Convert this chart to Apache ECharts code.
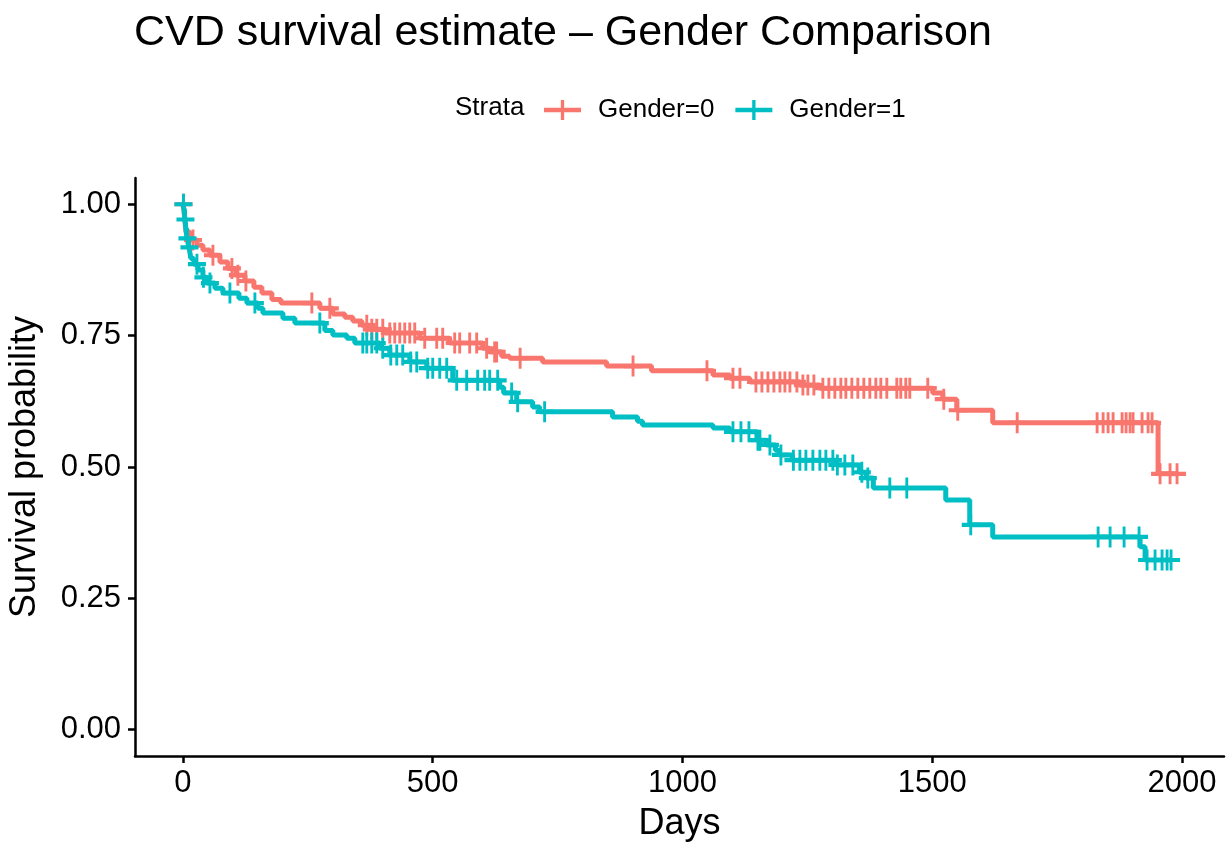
<!DOCTYPE html>
<html>
<head>
<meta charset="utf-8">
<script src="https://cdn.jsdelivr.net/npm/echarts@6/dist/echarts.min.js"></script>
<style>html,body{margin:0;padding:0;background:#fff}#c{width:1226px;height:844px}</style>
</head>
<body>
<div id="c"></div>
<script>
// ---- data ----
const seriesNames = ['Gender=0', 'Gender=1'];
const xTicks = [0, 500, 1000, 1500, 2000];
const yTicks = [0, 0.25, 0.5, 0.75, 1];

const redTimes = [0, 2, 6, 14, 28, 40, 54, 74, 90, 106, 124, 142, 158, 178, 196, 274, 300, 324, 340, 358, 374, 404, 474, 534, 600, 614, 638, 654, 720, 848, 938, 1061, 1095, 1135, 1235, 1275, 1501, 1521, 1549, 1621, 1952, 1990];
const redSurv = [1.0, 0.990, 0.947, 0.932, 0.922, 0.913, 0.903, 0.890, 0.878, 0.865, 0.854, 0.842, 0.831, 0.819, 0.812, 0.802, 0.791, 0.785, 0.778, 0.770, 0.762, 0.755, 0.745, 0.736, 0.726, 0.719, 0.711, 0.707, 0.700, 0.692, 0.683, 0.675, 0.669, 0.662, 0.656, 0.650, 0.641, 0.629, 0.608, 0.584, 0.487, 0.487];
const redCensor = [1, 20, 60, 98, 110, 126, 258, 294, 368, 378, 388, 400, 414, 424, 434, 444, 454, 464, 484, 508, 520, 544, 554, 574, 588, 608, 624, 628, 675, 901, 1049, 1101, 1115, 1147, 1159, 1171, 1183, 1195, 1205, 1215, 1229, 1241, 1251, 1263, 1281, 1293, 1305, 1317, 1327, 1339, 1351, 1363, 1375, 1387, 1397, 1409, 1429, 1437, 1447, 1455, 1491, 1523, 1551, 1670, 1830, 1842, 1852, 1862, 1880, 1888, 1896, 1902, 1920, 1932, 1940, 1956, 1976, 1990];

const tealTimes = [0, 2, 4, 8, 12, 16, 22, 30, 40, 48, 64, 80, 112, 128, 150, 160, 200, 224, 284, 300, 328, 344, 394, 414, 454, 488, 540, 634, 642, 668, 700, 714, 860, 910, 920, 1061, 1095, 1149, 1168, 1186, 1194, 1220, 1308, 1354, 1368, 1382, 1527, 1575, 1621, 1916, 1926, 1978];
const tealSurv = [1.0, 0.990, 0.971, 0.935, 0.918, 0.897, 0.886, 0.875, 0.861, 0.850, 0.840, 0.831, 0.821, 0.812, 0.802, 0.793, 0.783, 0.774, 0.760, 0.751, 0.745, 0.736, 0.726, 0.713, 0.700, 0.688, 0.665, 0.652, 0.641, 0.624, 0.614, 0.605, 0.595, 0.587, 0.580, 0.574, 0.567, 0.551, 0.542, 0.532, 0.523, 0.513, 0.504, 0.490, 0.479, 0.460, 0.437, 0.390, 0.367, 0.348, 0.323, 0.323];
const tealCensor = [1, 5, 9, 13, 28, 41, 54, 94, 144, 274, 360, 368, 378, 388, 400, 416, 428, 440, 456, 468, 490, 500, 514, 528, 548, 568, 590, 604, 614, 630, 658, 670, 724, 1101, 1117, 1133, 1151, 1155, 1175, 1197, 1222, 1235, 1247, 1261, 1275, 1287, 1301, 1310, 1325, 1341, 1359, 1371, 1415, 1449, 1577, 1832, 1856, 1884, 1914, 1930, 1946, 1960, 1970, 1978];

// ---- helpers ----
function survAt(times, surv, t) {
  let s = surv[0];
  for (let i = 0; i < times.length; i++) { if (times[i] <= t) s = surv[i]; else break; }
  return s;
}
const stepData = (times, surv) => times.map((t, i) => [t, surv[i]]);
const censorData = (cens, times, surv) => cens.map(t => [t, survAt(times, surv, t)]);

const RED = '#F8766D', TEAL = '#00BFC4';
const FONT = 'Liberation Sans, Arial, Helvetica, sans-serif';
const plus = 'path://M-1.6,-10 L1.6,-10 L1.6,-2 L10,-2 L10,2 L1.6,2 L1.6,10 L-1.6,10 L-1.6,2 L-10,2 L-10,-2 L-1.6,-2 Z';
const legendPlus = 'path://M-0.9,-10 L0.9,-10 L0.9,-2.2 L10,-2.2 L10,2.2 L0.9,2.2 L0.9,10 L-0.9,10 L-0.9,2.2 L-10,2.2 L-10,-2.2 L-0.9,-2.2 Z';

const chart = echarts.init(document.getElementById('c'), null, { renderer: 'canvas' });
chart.setOption({
  animation: false,
  backgroundColor: '#fff',
  textStyle: { fontFamily: FONT },
  title: {
    text: 'CVD survival estimate \u2013 Gender Comparison',
    left: 134, top: 12, padding: 0,
    textStyle: { fontFamily: FONT, fontSize: 43, fontWeight: 'normal', color: '#000' }
  },
  legend: {
    left: 544, top: 97, padding: 0,
    itemWidth: 37, itemHeight: 20, itemGap: 21, symbolKeepAspect: false,
    textStyle: { fontFamily: FONT, fontSize: 26, color: '#000', padding: [0, 0, 0, 12] },
    data: [
      { name: seriesNames[0], icon: legendPlus, itemStyle: { color: RED } },
      { name: seriesNames[1], icon: legendPlus, itemStyle: { color: TEAL } }
    ]
  },
  graphic: [{
    type: 'text', left: 455, top: 95,
    style: { text: 'Strata', fontFamily: FONT, fontSize: 26, fill: '#000' }
  }],
  grid: { left: 135, right: 2, top: 178, bottom: 88, containLabel: false, outerBoundsMode: 'none' },
  xAxis: {
    type: 'value', min: -96, max: 2084,
    name: 'Days', nameLocation: 'middle', nameGap: 50,
    nameTextStyle: { fontFamily: FONT, fontSize: 36, color: '#000' },
    axisLine: { show: true, onZero: false, lineStyle: { color: '#000', width: 2.5 } },
    axisTick: { show: true, length: 7, lineStyle: { color: '#000', width: 2.5 }, customValues: xTicks },
    axisLabel: { fontFamily: FONT, fontSize: 31, color: '#000', margin: 12, customValues: xTicks,
      formatter: v => String(v) },
    splitLine: { show: false }
  },
  yAxis: {
    type: 'value', min: -0.05, max: 1.05,
    name: 'Survival probability', nameLocation: 'middle', nameGap: 92, nameRotate: 90,
    nameTextStyle: { fontFamily: FONT, fontSize: 36, color: '#000' },
    axisLine: { show: true, onZero: false, lineStyle: { color: '#000', width: 2.5 } },
    axisTick: { show: true, length: 7, lineStyle: { color: '#000', width: 2.5 }, customValues: yTicks },
    axisLabel: { fontFamily: FONT, fontSize: 31, color: '#000', margin: 14, customValues: yTicks,
      formatter: v => v.toFixed(2) },
    splitLine: { show: false }
  },
  series: [
    { name: seriesNames[0], type: 'line', step: 'end', showSymbol: false, symbol: 'none',
      data: stepData(redTimes, redSurv), lineStyle: { color: RED, width: 5 }, itemStyle: { color: RED }, z: 2 },
    { name: seriesNames[1], type: 'line', step: 'end', showSymbol: false, symbol: 'none',
      data: stepData(tealTimes, tealSurv), lineStyle: { color: TEAL, width: 5 }, itemStyle: { color: TEAL }, z: 2 },
    { name: seriesNames[0], type: 'scatter', symbol: plus, symbolSize: [18, 21],
      data: censorData(redCensor, redTimes, redSurv), itemStyle: { color: RED, opacity: 1 }, z: 3 },
    { name: seriesNames[1], type: 'scatter', symbol: plus, symbolSize: [18, 21],
      data: censorData(tealCensor, tealTimes, tealSurv), itemStyle: { color: TEAL, opacity: 1 }, z: 3 }
  ]
});
</script>
</body>
</html>
